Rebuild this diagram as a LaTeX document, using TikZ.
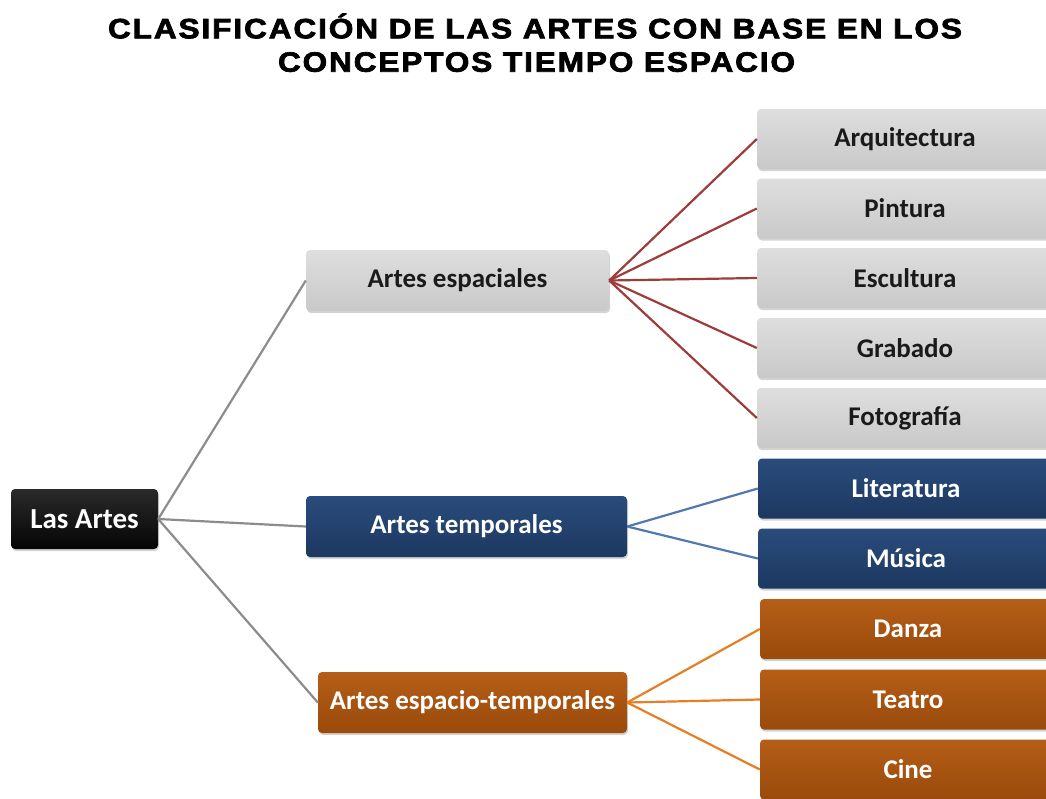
\documentclass[tikz,border=0pt]{standalone}
\usepackage{fontspec}
\setmainfont{Carlito}
\newfontfamily\titlefont{Liberation Sans}[BoldFeatures={FakeBold=2.5}, LetterSpace=6]
\usetikzlibrary{shadows}
\definecolor{gtop}{HTML}{DEDEDE}
\definecolor{gbot}{HTML}{C9C9C9}
\definecolor{btop}{HTML}{2A4C7C}
\definecolor{bbot}{HTML}{1C3860}
\definecolor{otop}{HTML}{B55E17}
\definecolor{obot}{HTML}{9A4A0B}
\definecolor{ktop}{HTML}{2A2A2A}
\definecolor{kbot}{HTML}{050505}
\definecolor{glinec}{HTML}{8C8C8C}
\definecolor{rlinec}{HTML}{9E3B3B}
\definecolor{blinec}{HTML}{5079B0}
\definecolor{olinec}{HTML}{E67E22}
\definecolor{gtext}{HTML}{1A1A1A}
\newlength\tlw
\newcommand\fitline[2]{\settowidth\tlw{#2}\pgfmathsetmacro\tlf{#1/\tlw}\scalebox{\tlf}[1]{#2}}
\begin{document}
\begin{tikzpicture}[x=1pt,y=-1pt,
  box/.style={rounded corners=4pt, inner sep=0pt, align=center,
    drop shadow={opacity=0.35, shadow xshift=1pt, shadow yshift=-2pt},
    font=\bfseries\fontsize{27}{30}\selectfont},
  greybox/.style={box, top color=gtop, bottom color=gbot, text=gtext},
  bluebox/.style={box, top color=btop, bottom color=bbot, text=white},
  orangebox/.style={box, top color=otop, bottom color=obot, text=white},
  blackbox/.style={box, top color=ktop, bottom color=kbot, text=white},
  mid/.style={minimum height=61pt},
  leaf/.style={minimum width=296pt, minimum height=60pt},
  conn/.style={line width=2.2pt},
  gline/.style={conn, draw=glinec},
  rline/.style={conn, draw=rlinec},
  bline/.style={conn, draw=blinec},
  oline/.style={conn, draw=olinec},
  ttl/.style={font=\titlefont\bfseries\fontsize{28}{30}\selectfont, inner sep=0pt, anchor=base}
]
\useasboundingbox (0,0) rectangle (1046,798);
\clip (0,0) rectangle (1046,798);

% title
\node[ttl] (t1) at (535,38.3) {\fitline{854pt}{CLASIFICACIÓN DE LAS ARTES CON BASE EN LOS}};
\node[ttl] (t2) at (536.5,71.7) {\fitline{517pt}{CONCEPTOS TIEMPO ESPACIO}};

% level nodes
\node[blackbox, minimum width=147pt, minimum height=60pt, font=\bfseries\fontsize{29}{32}\selectfont] (root) at (84.5,519) {Las Artes};
\node[greybox, mid, minimum width=303pt] (esp) at (457.5,280.5) {Artes espaciales};
\node[bluebox, mid, minimum width=321pt] (tem) at (466.5,526.5) {Artes temporales};
\node[orangebox, mid, minimum width=309pt] (et) at (472.5,702.5) {Artes espacio-temporales};

% leaves
\node[greybox, leaf] (arq) at (905,139) {Arquitectura};
\node[greybox, leaf] (pin) at (905,208.5) {Pintura};
\node[greybox, leaf] (esc) at (905,278) {Escultura};
\node[greybox, leaf] (gra) at (905,348) {Grabado};
\node[greybox, leaf] (fot) at (905,418) {Fotografía};
\node[bluebox, leaf] (lit) at (906,488.5) {Literatura};
\node[bluebox, leaf] (mus) at (906,558.5) {Música};
\node[orangebox, leaf] (dan) at (908,629) {Danza};
\node[orangebox, leaf] (tea) at (908,699.5) {Teatro};
\node[orangebox, leaf] (cin) at (908,769.5) {Cine};

% connectors
\draw[gline] (root.east) -- (esp.west);
\draw[gline] (root.east) -- (tem.west);
\draw[gline] (root.east) -- (et.west);
\foreach \n in {arq,pin,esc,gra,fot} \draw[rline] (esp.east) -- (\n.west);
\foreach \n in {lit,mus} \draw[bline] (tem.east) -- (\n.west);
\foreach \n in {dan,tea,cin} \draw[oline] (et.east) -- (\n.west);
\end{tikzpicture}
\end{document}
